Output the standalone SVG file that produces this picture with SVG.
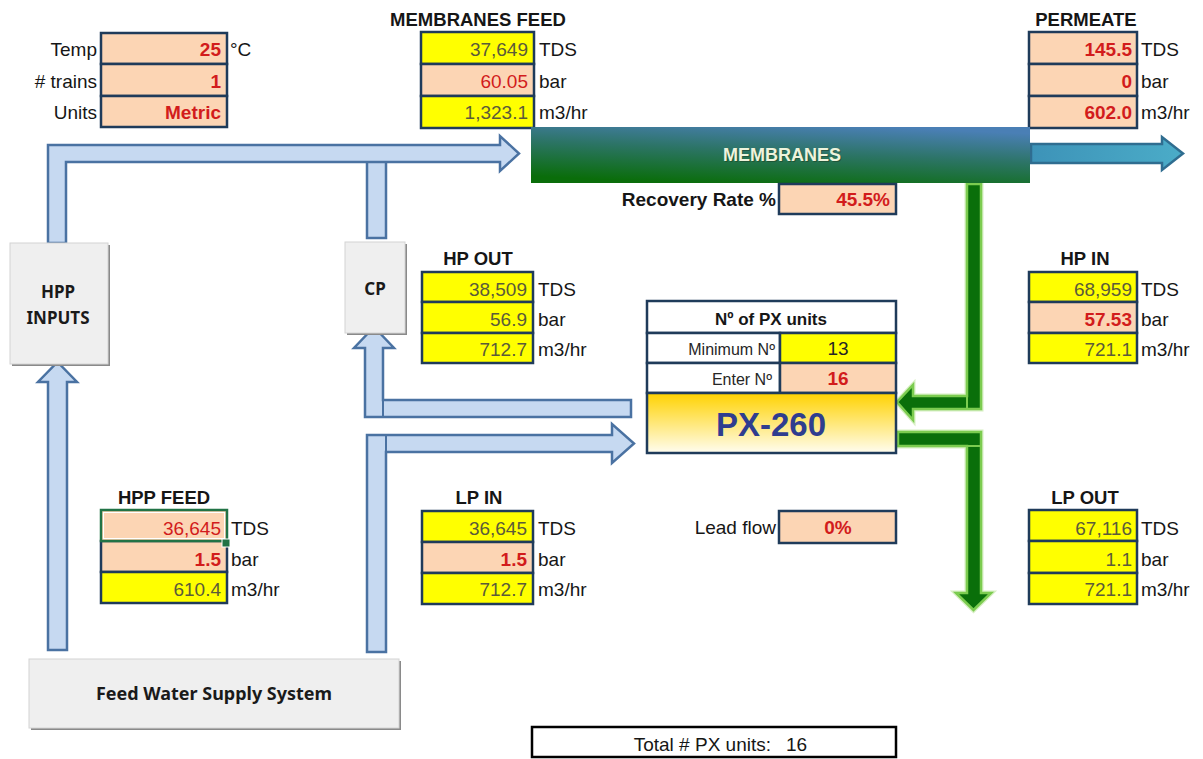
<svg xmlns="http://www.w3.org/2000/svg" width="1203" height="759" viewBox="0 0 1203 759">
<defs>
<style>
text{font-family:"Liberation Sans",Arial,sans-serif}
.lbl{font-size:19px;fill:#161616}
.lblr{font-size:19px;fill:#161616;text-anchor:end}
.ttl{font-size:18.5px;font-weight:bold;fill:#161616;text-anchor:middle}
.val{font-size:19px;fill:#5b5b3a;text-anchor:end}
.valr{font-size:19px;fill:#d21c1c;font-weight:bold;text-anchor:end}
.valrn{font-size:19px;fill:#d21c1c;text-anchor:end}
.peach{fill:#fcd5b4;stroke:#1f3b5a;stroke-width:2.5}
.yel{fill:#ffff00;stroke:#1f3b5a;stroke-width:2.5}
.wht{fill:#ffffff;stroke:#1f3b5a;stroke-width:2.5}
.pipe{fill:#c6d9f1;stroke:#4a72a2;stroke-width:2.5}
.green{fill:#0a6f0a;stroke:#7ccc50;stroke-width:2.5}
.glow{fill:none;stroke:#c4e8a8;stroke-width:5;opacity:0.7}
.gbox{fill:#efefef;stroke:#d4d4d4;stroke-width:1}
.gshadow{fill:#8a8a8a}
.btxt{font-family:"Noto Sans","Open Sans",sans-serif;font-weight:bold;font-size:17px;fill:#1a1a1a;text-anchor:middle}
</style>
<linearGradient id="memGrad" x1="0.3" y1="1" x2="0.7" y2="0">
<stop offset="0" stop-color="#0a6d0a"/>
<stop offset="0.55" stop-color="#2c7466"/>
<stop offset="1" stop-color="#4a7fb5"/>
</linearGradient>
<linearGradient id="pxGrad" x1="0" y1="0" x2="0" y2="1">
<stop offset="0" stop-color="#ffd200"/>
<stop offset="1" stop-color="#fffdf0"/>
</linearGradient>
<linearGradient id="permGrad" x1="0" y1="0" x2="1" y2="0">
<stop offset="0" stop-color="#3d93b8"/>
<stop offset="1" stop-color="#4bacc8"/>
</linearGradient>
</defs>
<rect x="0" y="0" width="1203" height="759" fill="#ffffff"/>

<g id="connectors">
<rect class="pipe" x="367" y="150" width="19" height="88"/>
<path class="pipe" d="M48,243 L48,145 L500,145 L500,136 L519,153.5 L500,171 L500,162 L66,162 L66,243 Z"/>
<path class="pipe" d="M48,650 L48,382 L38,382 L57.5,362 L77,382 L67,382 L67,650 Z"/>
<path class="pipe" d="M631,400 L383,400 L383,348 L394,348 L374,327 L354,348 L365,348 L365,417 L631,417 Z"/>
<line x1="383" y1="400" x2="383" y2="417" stroke="#4a72a2" stroke-width="2"/>
<path class="pipe" d="M367,652 L367,435 L612,435 L612,424 L634,443.5 L612,463 L612,452 L386,452 L386,652 Z"/>
<line x1="386" y1="435" x2="386" y2="452" stroke="#4a72a2" stroke-width="2"/>
<path d="M1031,144 L1162,144 L1162,137 L1183,153.5 L1162,170 L1162,163 L1031,163 Z" fill="url(#permGrad)" stroke="#2f6d90" stroke-width="2.5"/>
<path class="glow" d="M967,184 L981,184 L981,409 L913,409 L913,420 L897,402 L913,385 L913,396 L967,396 Z"/>
<path class="green" d="M967,184 L981,184 L981,409 L913,409 L913,420 L897,402 L913,385 L913,396 L967,396 Z"/>
<line x1="967" y1="396" x2="967" y2="409" stroke="#7ccc50" stroke-width="2"/>
<path class="glow" d="M898,432 L981,432 L981,593 L991,593 L973.5,610 L956,593 L967,593 L967,446 L898,446 Z"/>
<path class="green" d="M898,432 L981,432 L981,593 L991,593 L973.5,610 L956,593 L967,593 L967,446 L898,446 Z"/>
<line x1="967" y1="446" x2="981" y2="446" stroke="#7ccc50" stroke-width="2"/>
</g>

<g id="settings">
<rect class="peach" x="101" y="33" width="126" height="31"/>
<rect class="peach" x="101" y="64" width="126" height="32"/>
<rect class="peach" x="101" y="96" width="126" height="31"/>
<text class="lblr" x="97" y="56">Temp</text>
<text class="lblr" x="97" y="88">#&#160;trains</text>
<text class="lblr" x="97" y="119">Units</text>
<text class="valr" x="221" y="56">25</text>
<text class="valr" x="221" y="88">1</text>
<text class="valr" x="221" y="119">Metric</text>
<text class="lbl" x="230" y="56">°C</text>
</g>

<g id="membranes-feed">
<text class="ttl" x="478" y="26">MEMBRANES FEED</text>
<rect class="yel" x="421" y="32" width="113" height="32"/>
<rect class="peach" x="421" y="64" width="113" height="32"/>
<rect class="yel" x="421" y="96" width="113" height="32"/>
<text class="val" x="528" y="56">37,649</text>
<text class="valrn" x="528" y="88">60.05</text>
<text class="val" x="528" y="119">1,323.1</text>
<text class="lbl" x="539" y="56">TDS</text>
<text class="lbl" x="539" y="88">bar</text>
<text class="lbl" x="539" y="119">m3/hr</text>
</g>

<g id="permeate">
<text class="ttl" x="1086" y="26">PERMEATE</text>
<rect class="peach" x="1029" y="32" width="108" height="32"/>
<rect class="peach" x="1029" y="64" width="108" height="32"/>
<rect class="peach" x="1029" y="96" width="108" height="32"/>
<text class="valr" x="1132" y="56">145.5</text>
<text class="valr" x="1132" y="88">0</text>
<text class="valr" x="1132" y="119">602.0</text>
<text class="lbl" x="1141" y="56">TDS</text>
<text class="lbl" x="1141" y="88">bar</text>
<text class="lbl" x="1141" y="119">m3/hr</text>
</g>

<g id="membranes">
<rect x="531" y="127" width="499" height="56" fill="url(#memGrad)"/>
<text x="783" y="162" text-anchor="middle" font-size="18" font-weight="bold" fill="#1d3a20" opacity="0.5">MEMBRANES</text>
<text x="782" y="161" text-anchor="middle" font-size="18" font-weight="bold" fill="#eef3dc">MEMBRANES</text>
</g>

<g id="recovery">
<text class="lblr" x="776" y="206" font-weight="bold">Recovery Rate %</text>
<rect class="peach" x="779" y="184" width="117" height="30"/>
<text class="valr" x="890" y="206">45.5%</text>
</g>

<g id="hpp-inputs">
<rect class="gshadow" x="12" y="245" width="98" height="121"/>
<rect class="gbox" x="10" y="243" width="98" height="121"/>
<text class="btxt" x="58" y="298">HPP</text>
<text class="btxt" x="58" y="324">INPUTS</text>
</g>

<g id="cp">
<rect class="gshadow" x="347" y="244" width="60" height="91"/>
<rect class="gbox" x="345" y="242" width="60" height="91"/>
<text class="btxt" x="375" y="295">CP</text>
</g>

<g id="feed-water">
<rect class="gshadow" x="31" y="661" width="370" height="69"/>
<rect class="gbox" x="29" y="659" width="370" height="69"/>
<text class="btxt" x="214" y="700" textLength="236" lengthAdjust="spacingAndGlyphs">Feed Water Supply System</text>
</g>

<g id="hp-out">
<text class="ttl" x="478" y="265">HP OUT</text>
<rect class="yel" x="422" y="272" width="111" height="30"/>
<rect class="yel" x="422" y="302" width="111" height="31"/>
<rect class="yel" x="422" y="333" width="111" height="30"/>
<text class="val" x="527" y="296">38,509</text>
<text class="val" x="527" y="326">56.9</text>
<text class="val" x="527" y="356">712.7</text>
<text class="lbl" x="538" y="296">TDS</text>
<text class="lbl" x="538" y="326">bar</text>
<text class="lbl" x="538" y="356">m3/hr</text>
</g>

<g id="hp-in">
<text class="ttl" x="1085" y="265">HP IN</text>
<rect class="yel" x="1029" y="272" width="108" height="30"/>
<rect class="peach" x="1029" y="302" width="108" height="31"/>
<rect class="yel" x="1029" y="333" width="108" height="30"/>
<text class="val" x="1132" y="296">68,959</text>
<text class="valr" x="1132" y="326">57.53</text>
<text class="val" x="1132" y="356">721.1</text>
<text class="lbl" x="1141" y="296">TDS</text>
<text class="lbl" x="1141" y="326">bar</text>
<text class="lbl" x="1141" y="356">m3/hr</text>
</g>

<g id="px">
<rect class="wht" x="647" y="301" width="249" height="32"/>
<text x="771" y="325" text-anchor="middle" font-size="17" font-weight="bold" fill="#161616">Nº of PX units</text>
<rect class="wht" x="647" y="333" width="133" height="30"/>
<rect class="yel" x="780" y="333" width="116" height="30"/>
<text x="775" y="355" text-anchor="end" font-size="16" fill="#262626">Minimum Nº</text>
<text x="838" y="355" text-anchor="middle" font-size="19" fill="#262626">13</text>
<rect class="wht" x="647" y="363" width="133" height="30"/>
<rect class="peach" x="780" y="363" width="116" height="30"/>
<text x="772" y="385" text-anchor="end" font-size="16" fill="#262626">Enter Nº</text>
<text x="838" y="385" text-anchor="middle" font-size="19" font-weight="bold" fill="#d21c1c">16</text>
<rect x="647" y="393" width="249" height="60" fill="url(#pxGrad)" stroke="#1f3b5a" stroke-width="2.5"/>
<text x="771" y="436" text-anchor="middle" font-size="33" font-weight="bold" fill="#2f3d8f">PX-260</text>
</g>

<g id="hpp-feed">
<text class="ttl" x="164" y="504">HPP FEED</text>
<rect class="peach" x="101" y="541" width="126" height="31"/>
<rect class="yel" x="101" y="572" width="126" height="31"/>
<rect x="101" y="510" width="126" height="31" fill="#fcd5b4" stroke="#217346" stroke-width="2.5"/>
<rect x="103.5" y="512.5" width="121" height="26" fill="none" stroke="#ffffff" stroke-width="1"/>
<rect x="222" y="539" width="8" height="8" fill="#217346" stroke="#ffffff" stroke-width="1"/>
<text class="valrn" x="221" y="535">36,645</text>
<text class="valr" x="221" y="566">1.5</text>
<text class="val" x="221" y="596">610.4</text>
<text class="lbl" x="231" y="535">TDS</text>
<text class="lbl" x="231" y="566">bar</text>
<text class="lbl" x="231" y="596">m3/hr</text>
</g>

<g id="lp-in">
<text class="ttl" x="479" y="504">LP IN</text>
<rect class="yel" x="422" y="511" width="111" height="31"/>
<rect class="peach" x="422" y="542" width="111" height="31"/>
<rect class="yel" x="422" y="573" width="111" height="31"/>
<text class="val" x="527" y="535">36,645</text>
<text class="valr" x="527" y="566">1.5</text>
<text class="val" x="527" y="596">712.7</text>
<text class="lbl" x="538" y="535">TDS</text>
<text class="lbl" x="538" y="566">bar</text>
<text class="lbl" x="538" y="596">m3/hr</text>
</g>

<g id="lead-flow">
<text class="lblr" x="776" y="534">Lead flow</text>
<rect class="peach" x="779" y="511" width="117" height="32"/>
<text x="838" y="534" text-anchor="middle" font-size="19" font-weight="bold" fill="#d21c1c">0%</text>
</g>

<g id="lp-out">
<text class="ttl" x="1085" y="504">LP OUT</text>
<rect class="yel" x="1029" y="510" width="108" height="31"/>
<rect class="yel" x="1029" y="541" width="108" height="32"/>
<rect class="yel" x="1029" y="573" width="108" height="31"/>
<text class="val" x="1132" y="535">67,116</text>
<text class="val" x="1132" y="566">1.1</text>
<text class="val" x="1132" y="596">721.1</text>
<text class="lbl" x="1141" y="535">TDS</text>
<text class="lbl" x="1141" y="566">bar</text>
<text class="lbl" x="1141" y="596">m3/hr</text>
</g>

<g id="total">
<rect x="532" y="727" width="364" height="30" fill="#ffffff" stroke="#000000" stroke-width="2.5"/>
<text class="lblr" x="771" y="751">Total # PX units:</text>
<text class="lbl" x="786" y="751">16</text>
</g>
</svg>
